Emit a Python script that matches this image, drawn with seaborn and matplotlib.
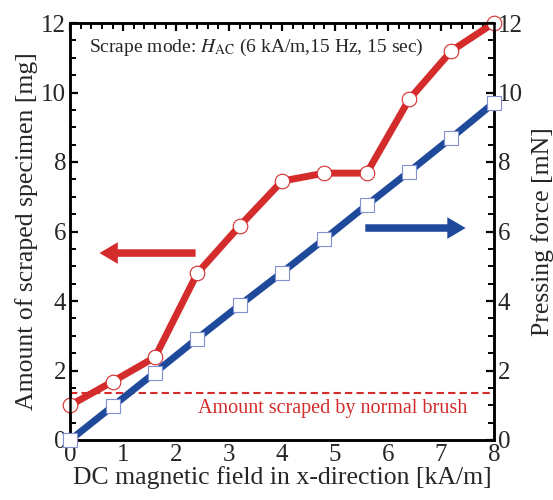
import matplotlib
matplotlib.use("Agg")
import matplotlib.pyplot as plt
import seaborn as sns
import pandas as pd
from matplotlib.ticker import MultipleLocator

sns.set_theme(style="white")
plt.rcParams['font.family'] = ['Liberation Serif', 'DejaVu Serif']
plt.rcParams['mathtext.fontset'] = 'stix'

field = [0.0, 0.8, 1.6, 2.4, 3.2, 4.0, 4.8, 5.6, 6.4, 7.2, 8.0]
scraped = [1.0, 1.68, 2.38, 4.8, 6.16, 7.45, 7.68, 7.68, 9.8, 11.2, 12.0]
force = [0.0, 0.97, 1.94, 2.92, 3.88, 4.82, 5.78, 6.76, 7.72, 8.7, 9.7]
normal_brush = 1.35

df = pd.DataFrame({"field": field, "scraped": scraped, "force": force})

red = "#d42b2b"
blue = "#1f4a9c"

fig = plt.figure(figsize=(5.53, 5.0), dpi=100)
ax = fig.add_axes([0.127, 0.12, 0.766, 0.834])
ax2 = ax.twinx()

sns.lineplot(data=df, x="field", y="scraped", ax=ax, color=red, lw=5,
             marker="o", markersize=10.5, markerfacecolor="white",
             markeredgecolor=red, markeredgewidth=0.8, zorder=3, clip_on=False)
sns.lineplot(data=df, x="field", y="force", ax=ax2, color=blue, lw=5,
             marker="s", markersize=10, markerfacecolor="white",
             markeredgecolor="#8090d0", markeredgewidth=0.8, zorder=3, clip_on=False)

ax.axhline(normal_brush, color=red, ls=(0, (3.5, 2)), lw=1.5, zorder=2)
ax.text(4.96, 0.92, "Amount scraped by normal brush", color=red,
        fontsize=14.5, ha="center", va="center")

ax.text(0.36, 11.3, r"Scrape mode: $H_{\mathrm{AC}}$ (6 kA/m,15 Hz, 15 sec)",
        fontsize=14, ha="left", va="center")

ax.annotate("", xy=(0.5, 5.38), xytext=(2.42, 5.38),
            arrowprops=dict(arrowstyle="simple,head_length=1.1,head_width=1.3,tail_width=0.45",
                            color=red, lw=0))
ax2.annotate("", xy=(7.52, 6.1), xytext=(5.52, 6.1),
             arrowprops=dict(arrowstyle="simple,head_length=1.1,head_width=1.3,tail_width=0.45",
                             color=blue, lw=0))

for a in (ax, ax2):
    a.set_xlim(0, 8)
    a.set_ylim(0, 12)
    a.yaxis.set_major_locator(MultipleLocator(2))
    a.yaxis.set_minor_locator(MultipleLocator(0.5))
    for s in a.spines.values():
        s.set_color("black")
        s.set_linewidth(1.8)

ax.xaxis.set_major_locator(MultipleLocator(1))
ax.xaxis.set_minor_locator(MultipleLocator(0.2))
ax.tick_params(axis="both", which="both", direction="in", color="black",
               top=True, labelsize=18, pad=3)
ax.tick_params(axis="y", which="both", right=False)
ax.tick_params(which="major", length=6, width=1.6)
ax.tick_params(which="minor", length=4, width=1.4)
ax2.tick_params(axis="y", which="both", direction="in", color="black",
                labelsize=18, pad=3)
ax2.tick_params(which="major", length=6, width=1.6)
ax2.tick_params(which="minor", length=4, width=1.4)

ax.set_xlabel("DC magnetic field in x-direction [kA/m]", fontsize=18.5, labelpad=0)
ax.set_ylabel("Amount of scraped specimen [mg]", fontsize=18.5, labelpad=2)
ax2.set_ylabel("Pressing force [mN]", fontsize=18.5, labelpad=6)

fig.savefig("out.png", dpi=100)
